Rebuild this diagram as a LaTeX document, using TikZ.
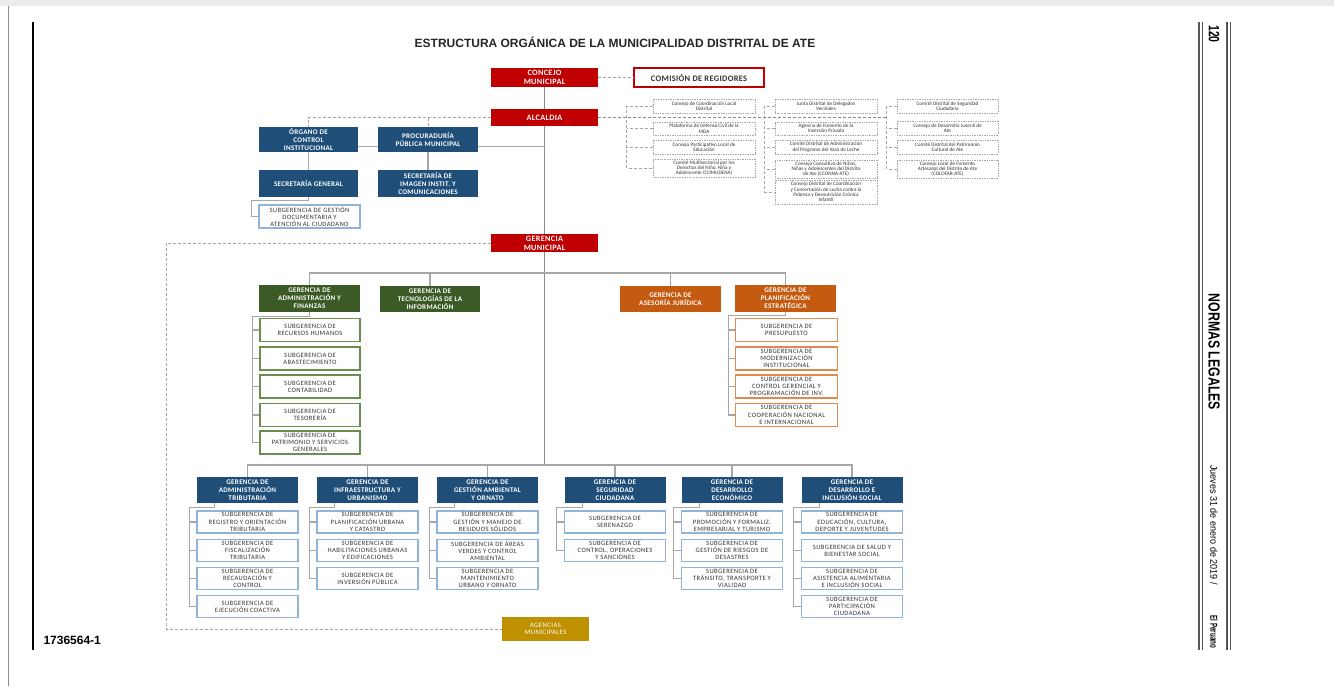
\documentclass[tikz,border=0pt]{standalone}
\usepackage{fontspec}
\setmainfont{Carlito}
\newfontfamily\boxf{Carlito}[LetterSpace=6.0]
\newfontfamily\boxbf{Carlito}[LetterSpace=4.0]
\newfontfamily\arialf{Liberation Sans}
\usetikzlibrary{calc}
\definecolor{cRed}{HTML}{C00000}
\definecolor{cBlue}{HTML}{1F4E79}
\definecolor{cGreen}{HTML}{3B5A26}
\definecolor{cOrange}{HTML}{C55A11}
\definecolor{cGold}{HTML}{BF9000}
\definecolor{cLBlue}{HTML}{8EB4DC}
\definecolor{cLGreen}{HTML}{6B8E4E}
\definecolor{cLOrange}{HTML}{E08A4E}
\definecolor{cLine}{HTML}{A6A6A6}
\definecolor{cSpine}{HTML}{8A8A8A}
\definecolor{cTxt}{HTML}{333333}
\definecolor{cFrame}{HTML}{555555}
\begin{document}
\begin{tikzpicture}[x=1pt,y=-1pt,
 obox/.style={inner sep=0pt, align=center, minimum width=101pt, minimum height=26pt},
 redbox/.style={obox, fill=cRed, text=white, font=\boxbf\bfseries\fontsize{8.2}{9}\selectfont, minimum width=107pt},
 gerB/.style={obox, fill=cBlue, text=white, font=\boxbf\bfseries\fontsize{7.1}{8}\selectfont},
 gerG/.style={gerB, fill=cGreen},
 gerO/.style={gerB, fill=cOrange},
 subB/.style={obox, draw=cLBlue, line width=1.3pt, fill=white, text=cTxt, font=\boxf\fontsize{6.6}{7.2}\selectfont, minimum height=22pt},
 subG/.style={subB, draw=cLGreen, minimum width=100pt, minimum height=23pt},
 subO/.style={subB, draw=cLOrange, minimum width=102pt, minimum height=23pt},
 cbox/.style={inner sep=0pt, align=center, draw=cLine, densely dotted, line width=0.7pt, fill=white, text=cTxt, font=\fontsize{5.2}{5.4}\selectfont, minimum width=102pt, minimum height=14pt},
 conn/.style={draw=cLine, line width=1.1pt},
 spine/.style={draw=cSpine, line width=1.6pt},
 dsh/.style={draw=cLine, line width=0.9pt, dash pattern=on 3pt off 2pt},
 dshH/.style={draw=cSpine, line width=1.5pt, dash pattern=on 3pt off 2pt},
 ]
\useasboundingbox (0,0) rectangle (1334,686);
\fill[white] (0,0) rectangle (1334,686);
\fill[black!8] (0,0) rectangle (1334,6);
\draw[black!45, line width=0.8pt] (8,6) -- (8,686);
% page frame
\draw[black, line width=1.5pt] (33,22) -- (33,650);
\draw[cFrame, line width=1.3pt] (1199,22) -- (1199,650);
\draw[cFrame, line width=0.6pt] (1202,22) -- (1202,650);
\draw[cFrame, line width=1.3pt] (1227,22) -- (1227,650);
\draw[cFrame, line width=0.6pt] (1230,22) -- (1230,650);
\node[rotate=-90, font=\arialf\bfseries\fontsize{15}{15}\selectfont] (pgnum) at (1214,34) {\scalebox{0.7}[1]{120}};
\node[rotate=-90, font=\arialf\bfseries\fontsize{16}{16}\selectfont] (pgsec) at (1214,352) {\scalebox{0.77}[1]{NORMAS LEGALES}};
\node[rotate=-90, font=\arialf\fontsize{10}{10}\selectfont] (pgdate) at (1214,525) {\scalebox{0.9}[1]{Jueves 31 de enero de 2019 /}};
\node[rotate=-90, font=\arialf\bfseries\fontsize{10}{10}\selectfont] (pgpap) at (1214,632) {\scalebox{0.62}[1]{El Peruano}};
\node[font=\arialf\bfseries\fontsize{12}{12}\selectfont, anchor=west] (code) at (40,640) {1736564-1};

% title
\node[font=\arialf\bfseries\fontsize{12}{12}\selectfont, text=black!85] (title) at (615,42) {ESTRUCTURA ORGÁNICA DE LA MUNICIPALIDAD DISTRITAL DE ATE};

% top
\node[redbox, minimum height=19pt] (concejo) at (544.5,77.5) {CONCEJO\\MUNICIPAL};
\node[obox, draw=cRed, line width=1.2pt, fill=white, text=cTxt, font=\boxbf\bfseries\fontsize{8.4}{9}\selectfont, minimum width=130pt, minimum height=19pt] (comision) at (699,77.5) {COMISIÓN DE REGIDORES};
\node[redbox, minimum height=17pt] (alcaldia) at (544.5,117.5) {ALCALDIA};

\node[gerB, minimum width=99pt, minimum height=25pt] (organo) at (308.5,139.5) {ÓRGANO DE\\CONTROL\\INSTITUCIONAL};
\node[gerB, minimum width=100pt, minimum height=25pt] (procur) at (428,139.5) {PROCURADURÍA\\PÚBLICA MUNICIPAL};
\node[gerB, minimum width=99pt, minimum height=27pt] (secgen) at (308.5,183.5) {SECRETARÍA GENERAL};
\node[gerB, minimum width=100pt, minimum height=27pt] (secimg) at (428,183.5) {SECRETARÍA DE\\IMAGEN INSTIT. Y\\COMUNICACIONES};
\node[subB, minimum height=23pt] (subdoc) at (309.5,216.5) {SUBGERENCIA DE GESTIÓN\\DOCUMENTARIA Y\\ATENCIÓN AL CIUDADANO};

% councils
\node[cbox] (a1) at (704,106) {Consejo de Coordinación Local\\Distrital};
\node[cbox, minimum height=13pt] (a2) at (704,128.5) {Plataforma de Defensa Civil de la\\MDA};
\node[cbox] (a3) at (704,147) {Consejo Participativo Local de\\Educación};
\node[cbox, minimum height=18pt] (a4) at (704,168) {Comité Multisectorial por los\\Derechos del Niño, Niña y\\Adolescente (COMUDENA)};
\node[cbox] (b1) at (826,106) {Junta Distrital de Delegados\\Vecinales};
\node[cbox, minimum height=13pt] (b2) at (826,128.5) {Agencia de Fomento de la\\Inversión Privada};
\node[cbox] (b3) at (826,147) {Comité Distrital de Administración\\del Programa del Vaso de Leche};
\node[cbox, minimum height=18pt] (b4) at (826,169) {Consejo Consultivo de Niños,\\Niñas y Adolescentes del Distrito\\de Ate (CCONNA-ATE)};
\node[cbox, minimum height=24pt] (b5) at (826,192) {Consejo Distrital de Coordinación\\y Concertación de Lucha contra la\\Pobreza y Desnutrición Crónica\\Infantil};
\node[cbox, minimum width=101pt] (c1) at (947.5,106) {Comité Distrital de Seguridad\\Ciudadana};
\node[cbox, minimum width=101pt] (c2) at (947.5,128) {Consejo de Desarrollo Juvenil de\\Ate};
\node[cbox, minimum width=101pt] (c3) at (947.5,147) {Comité Distrital del Patrimonio\\Cultural de Ate};
\node[cbox, minimum width=101pt, minimum height=18pt] (c4) at (947.5,169) {Consejo Local de Fomento\\Artesanal del Distrito de Ate\\(COLOFAR-ATE)};

% gerencia municipal and second level
\node[redbox, minimum height=18pt] (gm) at (544.5,243) {GERENCIA\\MUNICIPAL};
\node[gerG, minimum height=27pt] (gaf) at (309.5,298.5) {GERENCIA DE\\ADMINISTRACIÓN Y\\FINANZAS};
\node[gerG, minimum width=100pt] (gti) at (430,299) {GERENCIA DE\\TECNOLOGÍAS DE LA\\INFORMACIÓN};
\node[gerO] (gaj) at (670.5,299) {GERENCIA DE\\ASESORÍA JURÍDICA};
\node[gerO, minimum height=27pt] (gpe) at (785.5,298.5) {GERENCIA DE\\PLANIFICACIÓN\\ESTRATÉGICA};

\node[subG] (sl1) at (310,330) {SUBGERENCIA DE\\RECURSOS HUMANOS};
\node[subG] (sl2) at (310,358.5) {SUBGERENCIA DE\\ABASTECIMIENTO};
\node[subG] (sl3) at (310,386.5) {SUBGERENCIA DE\\CONTABILIDAD};
\node[subG] (sl4) at (310,415) {SUBGERENCIA DE\\TESORERÍA};
\node[subG] (sl5) at (310,442.5) {SUBGERENCIA DE\\PATRIMONIO Y SERVICIOS\\GENERALES};

\node[subO] (sr1) at (786.5,330) {SUBGERENCIA DE\\PRESUPUESTO};
\node[subO] (sr2) at (786.5,358.5) {SUBGERENCIA DE\\MODERNIZACIÓN\\INSTITUCIONAL};
\node[subO] (sr3) at (786.5,386.5) {SUBGERENCIA DE\\CONTROL GERENCIAL Y\\PROGRAMACIÓN DE INV.};
\node[subO] (sr4) at (786.5,415) {SUBGERENCIA DE\\COOPERACIÓN NACIONAL\\E INTERNACIONAL};

% bottom gerencias
\node[gerB] (g1) at (247.5,490) {GERENCIA DE\\ADMINISTRACIÓN\\TRIBUTARIA};
\node[gerB] (g2) at (367.5,490) {GERENCIA DE\\INFRAESTRUCTURA Y\\URBANISMO};
\node[gerB] (g3) at (487.5,490) {GERENCIA DE\\GESTIÓN AMBIENTAL\\Y ORNATO};
\node[gerB] (g4) at (615,490) {GERENCIA DE\\SEGURIDAD\\CIUDADANA};
\node[gerB] (g5) at (732,490) {GERENCIA DE\\DESARROLLO\\ECONÓMICO};
\node[gerB] (g6) at (852,490) {GERENCIA DE\\DESARROLLO E\\INCLUSIÓN SOCIAL};

\node[subB] (s11) at (247.5,522) {SUBGERENCIA DE\\REGISTRO Y ORIENTACIÓN\\TRIBUTARIA};
\node[subB] (s12) at (247.5,550.5) {SUBGERENCIA DE\\FISCALIZACIÓN\\TRIBUTARIA};
\node[subB] (s13) at (247.5,578.5) {SUBGERENCIA DE\\RECAUDACIÓN Y\\CONTROL};
\node[subB] (s14) at (247.5,606.5) {SUBGERENCIA DE\\EJECUCIÓN COACTIVA};

\node[subB] (s21) at (367.5,522) {SUBGERENCIA DE\\PLANIFICACIÓN URBANA\\Y CATASTRO};
\node[subB] (s22) at (367.5,550.5) {SUBGERENCIA DE\\HABILITACIONES URBANAS\\Y EDIFICACIONES};
\node[subB] (s23) at (367.5,578.5) {SUBGERENCIA DE\\INVERSIÓN PÚBLICA};

\node[subB] (s31) at (487.5,522) {SUBGERENCIA DE\\GESTIÓN Y MANEJO DE\\RESIDUOS SÓLIDOS};
\node[subB] (s32) at (487.5,550.5) {SUBGERENCIA DE ÁREAS\\VERDES Y CONTROL\\AMBIENTAL};
\node[subB] (s33) at (487.5,578.5) {SUBGERENCIA DE\\MANTENIMIENTO\\URBANO Y ORNATO};

\node[subB] (s41) at (615,522) {SUBGERENCIA DE\\SERENAZGO};
\node[subB] (s42) at (615,550.5) {SUBGERENCIA DE\\CONTROL, OPERACIONES\\Y SANCIONES};

\node[subB] (s51) at (732,522) {SUBGERENCIA DE\\PROMOCIÓN Y FORMALIZ.\\EMPRESARIAL Y TURISMO};
\node[subB] (s52) at (732,550.5) {SUBGERENCIA DE\\GESTIÓN DE RIESGOS DE\\DESASTRES};
\node[subB] (s53) at (732,578.5) {SUBGERENCIA DE\\TRÁNSITO, TRANSPORTE Y\\VIALIDAD};

\node[subB] (s61) at (852,522) {SUBGERENCIA DE\\EDUCACIÓN, CULTURA,\\DEPORTE Y JUVENTUDES};
\node[subB] (s62) at (852,550.5) {SUBGERENCIA DE SALUD Y\\BIENESTAR SOCIAL};
\node[subB] (s63) at (852,578.5) {SUBGERENCIA DE\\ASISTENCIA ALIMENTARIA\\E INCLUSIÓN SOCIAL};
\node[subB] (s64) at (852,606.5) {SUBGERENCIA DE\\PARTICIPACIÓN\\CIUDADANA};

\node[obox, fill=cGold, text=white, font=\boxf\fontsize{6.8}{7.6}\selectfont, minimum width=87pt, minimum height=24pt] (agencias) at (545.5,629) {AGENCIAS\\MUNICIPALES};

% ---------- connectors ----------
\coordinate (bus1) at (544.5,273);
\coordinate (bus2) at (544.5,465);
\coordinate (agc) at (166,629);
\coordinate (cv) at ($(c1.west)+(-10,0)$);
\coordinate (oc) at ($(procur.east)+(0,7)$);

\draw[spine] (concejo.south) -- (alcaldia.north);
\draw[spine] (alcaldia.south) -- (gm.north);
\draw[spine] (gm.south) -- (bus2);
\draw[dsh] (concejo.east) -- (comision.west);

\draw[dsh] (alcaldia.west) -| (organo.north);
\draw[dsh] (alcaldia.west -| procur.north) -- (procur.north);
\draw[conn] ($(organo.east)+(0,7)$) -- ($(procur.west)+(0,7)$);
\draw[conn] (oc) -- (oc -| alcaldia.south);
\draw[conn] (organo.south) -- (secgen.north);
\draw[conn] (procur.south) -- (secimg.north);
\draw[conn] (secgen.south) -- ++(0,3) -| ($(subdoc.west)+(-7,0)$) -- (subdoc.west);

\draw[dshH] (alcaldia.east) -- (alcaldia.east -| cv);
\draw[dsh] (a1.west) -- ++(-26,0) |- (a4.west);
\draw[dsh] (a2.west) -- ++(-26,0);
\draw[dsh] (a3.west) -- ++(-26,0);
\draw[dsh] (b1.west) -- ++(-10,0) |- (b5.west);
\draw[dsh] (b2.west) -- ++(-10,0);
\draw[dsh] (b3.west) -- ++(-10,0);
\draw[dsh] (b4.west) -- ++(-10,0);
\draw[dsh] (c1.west) -- ++(-10,0) |- (c4.west);
\draw[dsh] (c2.west) -- ++(-10,0);
\draw[dsh] (c3.west) -- ++(-10,0);

\draw[dsh] (gm.west) -| (agc) -- (agencias.west);

\draw[conn] (gaf.north) |- (bus1);
\draw[conn] (gpe.north) |- (bus1);
\draw[conn] (gti.north) -- (gti.north |- bus1);
\draw[conn] (gaj.north) -- (gaj.north |- bus1);

\draw[conn] (gaf.south) -- ++(0,4) -| ($(sl5.west)+(-7,0)$) -- (sl5.west);
\foreach \s in {sl1,sl2,sl3,sl4} \draw[conn] (\s.west) -- ++(-7,0);
\draw[conn] (gpe.south) -- ++(0,3) -| ($(sr4.west)+(-6,0)$) -- (sr4.west);
\foreach \s in {sr1,sr2,sr3} \draw[conn] (\s.west) -- ++(-6,0);

\draw[conn] (g1.north) |- (bus2);
\draw[conn] (g6.north) |- (bus2);
\foreach \g in {g2,g3,g4,g5} \draw[conn] (\g.north) -- (\g.north |- bus2);

\draw[conn] ($(g1.south west)+(18,0)$) -- ++(0,4) -| ($(s14.west)+(-7,0)$) -- (s14.west);
\foreach \s in {s11,s12,s13} \draw[conn] (\s.west) -- ++(-7,0);
\draw[conn] ($(g2.south west)+(18,0)$) -- ++(0,4) -| ($(s23.west)+(-7,0)$) -- (s23.west);
\foreach \s in {s21,s22} \draw[conn] (\s.west) -- ++(-7,0);
\draw[conn] ($(g3.south west)+(18,0)$) -- ++(0,4) -| ($(s33.west)+(-7,0)$) -- (s33.west);
\foreach \s in {s31,s32} \draw[conn] (\s.west) -- ++(-7,0);
\draw[conn] ($(g4.south west)+(18,0)$) -- ++(0,4) -| ($(s42.west)+(-7,0)$) -- (s42.west);
\foreach \s in {s41} \draw[conn] (\s.west) -- ++(-7,0);
\draw[conn] ($(g5.south west)+(18,0)$) -- ++(0,4) -| ($(s53.west)+(-7,0)$) -- (s53.west);
\foreach \s in {s51,s52} \draw[conn] (\s.west) -- ++(-7,0);
\draw[conn] ($(g6.south west)+(18,0)$) -- ++(0,4) -| ($(s64.west)+(-7,0)$) -- (s64.west);
\foreach \s in {s61,s62,s63} \draw[conn] (\s.west) -- ++(-7,0);
\end{tikzpicture}
\end{document}
